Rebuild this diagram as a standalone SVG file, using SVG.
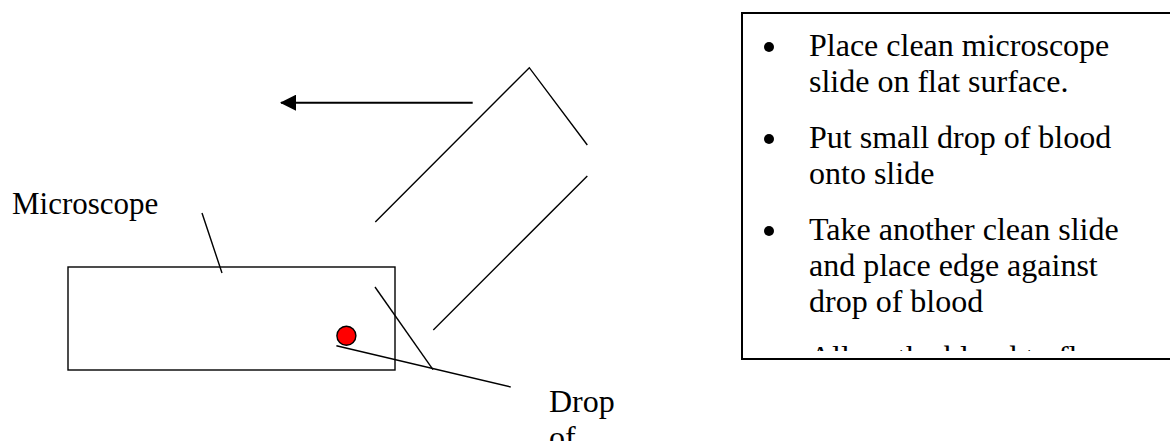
<svg xmlns="http://www.w3.org/2000/svg" width="1170" height="441" viewBox="0 0 1170 441">
<style>
.ln{stroke:#000;stroke-width:1.4;fill:none}
.t{font-family:"Liberation Serif","Times New Roman",serif;font-size:32px;fill:#000}
</style>
<defs>
<marker id="ah" markerWidth="16" markerHeight="16" refX="15" refY="8" orient="auto" markerUnits="userSpaceOnUse" viewBox="0 0 16 16">
<path d="M0,0 L16,8 L0,16 Z" fill="#000"/>
</marker>
<clipPath id="boxclip"><rect x="742" y="13" width="440" height="338"/></clipPath>
</defs>
<rect width="1170" height="441" fill="#fff"/>
<g id="microscope-slide">
<rect x="68" y="267" width="327" height="103" class="ln"/>
</g>
<g id="second-slide">
<polyline points="375.3,222 529.3,67.7 587.3,145" class="ln"/>
<line x1="587.3" y1="176" x2="433.3" y2="330" class="ln"/>
</g>
<g id="blood-drop">
<circle cx="346.4" cy="335.7" r="9.5" fill="#f00" stroke="#000" stroke-width="1.4"/>
</g>
<g id="label-microscope">
<text x="12" y="214" class="t" style="font-size:31px">Microscope</text>
</g>
<g id="label-drop">
<text x="549" y="412" class="t">Drop</text>
<text x="549" y="448" class="t">of</text>
</g>
<g id="instructions">
<rect x="742" y="13" width="440" height="346" fill="#fff" stroke="#000" stroke-width="2"/>
<g clip-path="url(#boxclip)">
<circle cx="769" cy="47" r="5" fill="#000"/>
<text x="809" y="55.7" class="t">Place clean microscope</text>
<text x="809" y="92" class="t">slide on flat surface.</text>
<circle cx="769" cy="139" r="5" fill="#000"/>
<text x="809" y="148" class="t">Put small drop of blood</text>
<text x="809" y="184" class="t">onto slide</text>
<circle cx="769" cy="231" r="5" fill="#000"/>
<text x="809" y="240" class="t">Take another clean slide</text>
<text x="809" y="276" class="t">and place edge against</text>
<text x="809" y="312" class="t">drop of blood</text>
<circle cx="769" cy="359" r="5" fill="#000"/>
<text x="809" y="368" class="t">Allow the blood to flow</text>
</g>
</g>
<g id="connectors">
<line x1="472.7" y1="102.7" x2="281" y2="102.7" class="ln" marker-end="url(#ah)" style="stroke-width:2"/>
<line x1="202" y1="213" x2="222" y2="273" class="ln"/>
<line x1="336.4" y1="345.7" x2="510.7" y2="387" class="ln"/>
<line x1="375" y1="287" x2="433" y2="369.6" class="ln"/>
</g>
</svg>
